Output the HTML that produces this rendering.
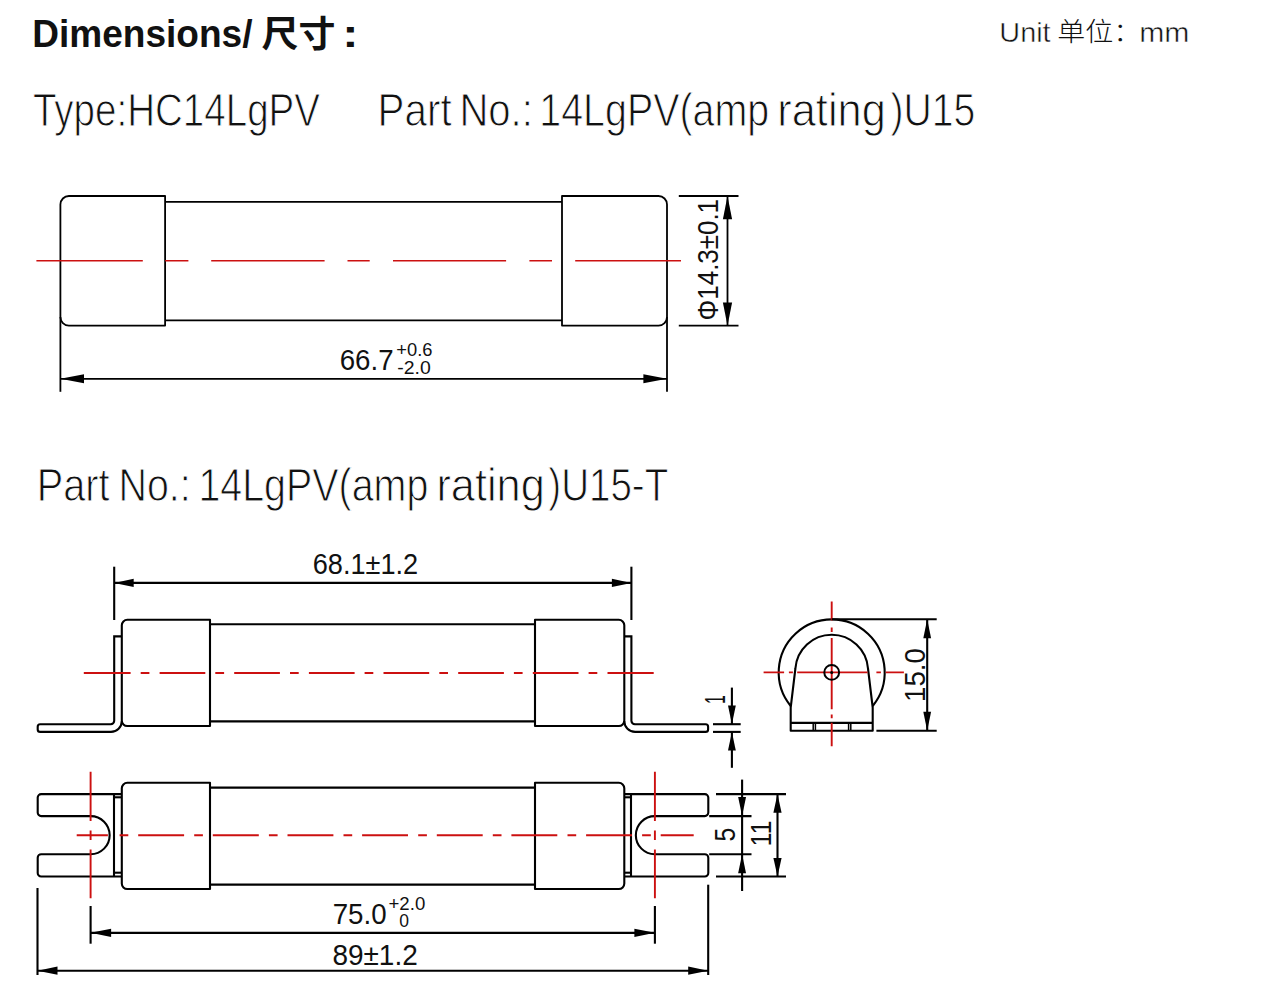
<!DOCTYPE html>
<html lang="zh"><head><meta charset="utf-8"><title>Dimensions</title>
<style>
html,body{margin:0;padding:0;background:#fff;}
body{width:1274px;height:1000px;overflow:hidden;font-family:'Liberation Sans', 'Noto Sans CJK SC', sans-serif;}
svg{display:block;font-family:'Liberation Sans', 'Noto Sans CJK SC', sans-serif;}
</style></head><body>
<svg width="1274" height="1000" viewBox="0 0 1274 1000">
<rect width="1274" height="1000" fill="#fff"/>
<path d="M165.1 196H68.9A8.5 8.5 0 0 0 60.4 204.5V317.1A8.5 8.5 0 0 0 68.9 325.6H165.1Z" fill="none" stroke="#000" stroke-width="1.8" stroke-linejoin="round"/>
<path d="M562 196H658.5A8.5 8.5 0 0 1 667.0 204.5V317.1A8.5 8.5 0 0 1 658.5 325.6H562Z" fill="none" stroke="#000" stroke-width="1.8" stroke-linejoin="round"/>
<line x1="165.2" y1="201.8" x2="562" y2="201.8" stroke="#000" stroke-width="1.8" />
<line x1="165.2" y1="320.3" x2="562" y2="320.3" stroke="#000" stroke-width="1.8" />
<path d="M36.4 260.8H142.8M165.2 260.8H188.4M211.2 260.8H324.6M347.5 260.8H369.7M393 260.8H506.1M529.4 260.8H552M575.2 260.8H681" stroke="#cc1010" stroke-width="1.6" fill="none"/>
<line x1="60.4" y1="317" x2="60.4" y2="391.8" stroke="#000" stroke-width="1.8" />
<line x1="667.0" y1="317" x2="667.0" y2="391.8" stroke="#000" stroke-width="1.8" />
<line x1="60.4" y1="378.85" x2="667.0" y2="378.85" stroke="#000" stroke-width="1.8" />
<polygon points="60.4,378.85 84.0,374.35 84.0,383.35" fill="#000"/>
<polygon points="667.0,378.85 643.4,374.35 643.4,383.35" fill="#000"/>
<line x1="678.8" y1="196" x2="738.5" y2="196" stroke="#000" stroke-width="1.8" />
<line x1="678.8" y1="325.7" x2="738.5" y2="325.7" stroke="#000" stroke-width="1.8" />
<line x1="727.5" y1="196" x2="727.5" y2="325.7" stroke="#000" stroke-width="1.8" />
<polygon points="727.5,196 722.9,219.3 732.1,219.3" fill="#000"/>
<polygon points="727.5,325.7 722.9,302.4 732.1,302.4" fill="#000"/>
<path d="M210 619.8H127.3A5.5 5.5 0 0 0 121.8 625.3V720.5A5.5 5.5 0 0 0 127.3 726H210Z" fill="none" stroke="#000" stroke-width="2.1" stroke-linejoin="round"/>
<path d="M535 619.8H618.8A5.5 5.5 0 0 1 624.3 625.3V720.5A5.5 5.5 0 0 1 618.8 726H535Z" fill="none" stroke="#000" stroke-width="2.1" stroke-linejoin="round"/>
<line x1="210" y1="624.3" x2="535" y2="624.3" stroke="#000" stroke-width="2.1" />
<line x1="210" y1="721.4" x2="535" y2="721.4" stroke="#000" stroke-width="2.1" />
<path d="M121.8 636.4H114.2V720.8A3.5 3.5 0 0 1 110.7 724.3H40.2A2.5 2.5 0 0 0 37.7 726.8V729.4A2.5 2.5 0 0 0 40.2 731.9H111A10.8 10.8 0 0 0 121.8 721.1" fill="none" stroke="#000" stroke-width="2.1"/>
<path d="M624.3 636.4H631.4V720.8A3.5 3.5 0 0 0 634.9 724.3H705.6A2.5 2.5 0 0 1 708.1 726.8V729.4A2.5 2.5 0 0 1 705.6 731.9H635.1A10.8 10.8 0 0 1 624.3 721.1" fill="none" stroke="#000" stroke-width="2.1"/>
<path d="M83.8 673H130.6M140.7 673H149.4M159.6 673H205.3M215.3 673H224.1M234.2 673H279.9M290.0 673H298.7M308.9 673H354.6M364.6 673H373.3M383.5 673H429.2M439.3 673H448.0M458.2 673H503.9M513.9 673H522.6M532.8 673H578.5M588.6 673H597.3M607.5 673H653.7" stroke="#cc1010" stroke-width="1.9" fill="none"/>
<line x1="114.2" y1="566.7" x2="114.2" y2="620" stroke="#000" stroke-width="2.1" />
<line x1="631.4" y1="566.7" x2="631.4" y2="620" stroke="#000" stroke-width="2.1" />
<line x1="114.2" y1="582.9" x2="631.4" y2="582.9" stroke="#000" stroke-width="2.1" />
<polygon points="114.2,582.9 133.7,578.6999999999999 133.7,587.1" fill="#000"/>
<polygon points="631.4,582.9 611.9,578.6999999999999 611.9,587.1" fill="#000"/>
<line x1="713" y1="724.2" x2="740.7" y2="724.2" stroke="#000" stroke-width="2.1" />
<line x1="713" y1="731.9" x2="740.7" y2="731.9" stroke="#000" stroke-width="2.1" />
<line x1="731.9" y1="687.6" x2="731.9" y2="724.2" stroke="#000" stroke-width="2.1" />
<line x1="731.9" y1="731.9" x2="731.9" y2="767.8" stroke="#000" stroke-width="2.1" />
<polygon points="731.9,724.2 728.0,705.5 735.8,705.5" fill="#000"/>
<polygon points="731.9,731.9 728.0,750.6 735.8,750.6" fill="#000"/>
<path d="M790.7 706.0A53 53 0 1 1 872.7 706.0" fill="none" stroke="#000" stroke-width="2.1"/>
<path d="M790.7 730.8V707.5L795.4000000000001 668.5A36.4 36.4 0 0 1 868.0 668.5L872.7 707.5V730.8Z" fill="none" stroke="#000" stroke-width="2.1" stroke-linejoin="round"/>
<line x1="790.7" y1="722.9" x2="872.7" y2="722.9" stroke="#000" stroke-width="2.1" />
<line x1="813.2" y1="722.9" x2="813.2" y2="730.8" stroke="#000" stroke-width="1.5" />
<line x1="815.4" y1="722.9" x2="815.4" y2="730.8" stroke="#000" stroke-width="1.5" />
<line x1="848.6" y1="722.9" x2="848.6" y2="730.8" stroke="#000" stroke-width="1.5" />
<line x1="850.8" y1="722.9" x2="850.8" y2="730.8" stroke="#000" stroke-width="1.5" />
<path d="M763.6 672.4H784.1M788.9 672.4H792.9M797.2 672.4H867.6M876.4 672.4H880.9M885.7 672.4H903.9" stroke="#cc1010" stroke-width="1.9" fill="none"/>
<path d="M831.7 601.5V620.4M831.7 627.6V631.9M831.7 638V709.2M831.7 714.5V718.3M831.7 722.8V746.2" stroke="#cc1010" stroke-width="1.9" fill="none"/>
<circle cx="831.7" cy="672.4" r="7.4" fill="none" stroke="#000" stroke-width="2.0"/>
<circle cx="831.7" cy="672.4" r="1.5" fill="#000"/>
<line x1="831.7" y1="619.3" x2="936.7" y2="619.3" stroke="#000" stroke-width="2.1" />
<line x1="876.4" y1="730.8" x2="936.7" y2="730.8" stroke="#000" stroke-width="2.1" />
<line x1="927.2" y1="619.3" x2="927.2" y2="730.8" stroke="#000" stroke-width="2.1" />
<polygon points="927.2,619.3 923.3000000000001,638.3 931.1,638.3" fill="#000"/>
<polygon points="927.2,730.8 923.3000000000001,711.8 931.1,711.8" fill="#000"/>
<path d="M210 782.8H127.3A5.5 5.5 0 0 0 121.8 788.3V883.5A5.5 5.5 0 0 0 127.3 889H210Z" fill="none" stroke="#000" stroke-width="2.1" stroke-linejoin="round"/>
<path d="M535 782.8H618.8A5.5 5.5 0 0 1 624.3 788.3V883.5A5.5 5.5 0 0 1 618.8 889H535Z" fill="none" stroke="#000" stroke-width="2.1" stroke-linejoin="round"/>
<line x1="210" y1="787.6" x2="535" y2="787.6" stroke="#000" stroke-width="2.1" />
<line x1="210" y1="884.6" x2="535" y2="884.6" stroke="#000" stroke-width="2.1" />
<path d="M121.8 794.1H41.2A3.5 3.5 0 0 0 37.7 797.6V812.6A3.5 3.5 0 0 0 41.2 816.1H90.6A19.05000000000001 19.05000000000001 0 0 1 90.6 854.2H41.2A3.5 3.5 0 0 0 37.7 857.7V873.0A3.5 3.5 0 0 0 41.2 876.5H121.8" fill="none" stroke="#000" stroke-width="2.1"/>
<line x1="114" y1="794.1" x2="114" y2="876.5" stroke="#000" stroke-width="2.1" />
<line x1="114" y1="797.3" x2="121.8" y2="797.3" stroke="#000" stroke-width="2.1" />
<line x1="114" y1="872.7" x2="121.8" y2="872.7" stroke="#000" stroke-width="2.1" />
<path d="M624.3 794.1H704.8A3.5 3.5 0 0 1 708.3 797.6V812.6A3.5 3.5 0 0 1 704.8 816.1H654.9A19.05000000000001 19.05000000000001 0 0 0 654.9 854.2H704.8A3.5 3.5 0 0 1 708.3 857.7V873.0A3.5 3.5 0 0 1 704.8 876.5H624.3" fill="none" stroke="#000" stroke-width="2.1"/>
<line x1="631" y1="794.1" x2="631" y2="876.5" stroke="#000" stroke-width="2.1" />
<line x1="624.3" y1="797.3" x2="631" y2="797.3" stroke="#000" stroke-width="2.1" />
<line x1="624.3" y1="872.7" x2="631" y2="872.7" stroke="#000" stroke-width="2.1" />
<path d="M76.7 835.3H107.9M119.6 835.3H128.3M138.2 835.3H184.1M194.2 835.3H202.9M212.8 835.3H258.8M268.9 835.3H277.6M287.5 835.3H333.4M343.5 835.3H352.2M362.1 835.3H408.0M418.2 835.3H426.9M436.8 835.3H482.7M492.8 835.3H501.5M511.4 835.3H557.3M567.5 835.3H576.2M586.1 835.3H632.0M642.1 835.3H650.8M660.7 835.3H693.7" stroke="#cc1010" stroke-width="1.9" fill="none"/>
<path d="M90.6 771.8V821M90.6 830.5V840M90.6 849.5V898.2" stroke="#cc1010" stroke-width="1.9" fill="none"/>
<path d="M654.9 771.8V821M654.9 830.5V840M654.9 849.5V898.2" stroke="#cc1010" stroke-width="1.9" fill="none"/>
<line x1="90.6" y1="906" x2="90.6" y2="943.7" stroke="#000" stroke-width="2.1" />
<line x1="654.9" y1="906" x2="654.9" y2="943.7" stroke="#000" stroke-width="2.1" />
<line x1="90.6" y1="932.85" x2="654.9" y2="932.85" stroke="#000" stroke-width="2.1" />
<polygon points="90.6,932.85 111.1,928.75 111.1,936.95" fill="#000"/>
<polygon points="654.9,932.85 634.4,928.75 634.4,936.95" fill="#000"/>
<line x1="37.5" y1="888" x2="37.5" y2="975" stroke="#000" stroke-width="2.1" />
<line x1="708.2" y1="884.7" x2="708.2" y2="975" stroke="#000" stroke-width="2.1" />
<line x1="37.5" y1="970.7" x2="708.2" y2="970.7" stroke="#000" stroke-width="2.1" />
<polygon points="37.5,970.7 57.5,966.6 57.5,974.8000000000001" fill="#000"/>
<polygon points="708.2,970.7 688.2,966.6 688.2,974.8000000000001" fill="#000"/>
<line x1="709.2" y1="816.1" x2="751.5" y2="816.1" stroke="#000" stroke-width="2.1" />
<line x1="709.2" y1="854.2" x2="751.5" y2="854.2" stroke="#000" stroke-width="2.1" />
<line x1="742.1" y1="779.6" x2="742.1" y2="891" stroke="#000" stroke-width="2.1" />
<polygon points="742.1,816.1 738.15,797.1 746.0500000000001,797.1" fill="#000"/>
<polygon points="742.1,854.2 738.15,873.2 746.0500000000001,873.2" fill="#000"/>
<line x1="716" y1="794.1" x2="786" y2="794.1" stroke="#000" stroke-width="2.1" />
<line x1="716" y1="876.5" x2="786" y2="876.5" stroke="#000" stroke-width="2.1" />
<line x1="777.5" y1="794.1" x2="777.5" y2="876.5" stroke="#000" stroke-width="2.1" />
<polygon points="777.5,794.1 773.4,812.7 781.6,812.7" fill="#000"/>
<polygon points="777.5,876.5 773.4,857.9 781.6,857.9" fill="#000"/>
<text fill="#111"><tspan x="32.20" y="47.00" font-size="39.4" font-weight="700" textLength="220.25" lengthAdjust="spacingAndGlyphs">Dimensions/</tspan> <tspan x="261.60" y="47.00" font-size="36" font-weight="700" textLength="73.91" lengthAdjust="spacingAndGlyphs">尺寸</tspan> <tspan x="342.30" y="47.00" font-size="39.4" font-weight="700" textLength="16.28" lengthAdjust="spacingAndGlyphs">:</tspan></text>
<text fill="#111"><tspan x="999.30" y="41.55" stroke="#fff" stroke-width="0.5" font-size="28.0" font-weight="400" textLength="51.34" lengthAdjust="spacingAndGlyphs">Unit</tspan> <tspan x="1057.30" y="41.30" font-size="26" font-weight="300" textLength="84.04" lengthAdjust="spacingAndGlyphs">单位：</tspan><tspan x="1139.20" y="41.55" stroke="#fff" stroke-width="0.5" font-size="28.0" font-weight="400" textLength="50.31" lengthAdjust="spacingAndGlyphs">mm</tspan></text>
<text fill="#111"><tspan x="32.90" y="126.30" stroke="#fff" stroke-width="1.0" font-size="45.9" font-weight="400" textLength="287.12" lengthAdjust="spacingAndGlyphs">Type:HC14LgPV</tspan></text>
<text fill="#111"><tspan x="377.60" y="126.30" stroke="#fff" stroke-width="1.0" font-size="45.9" font-weight="400" textLength="74.01" lengthAdjust="spacingAndGlyphs">Part</tspan> <tspan x="459.40" y="126.30" stroke="#fff" stroke-width="1.0" font-size="45.9" font-weight="400" textLength="73.42" lengthAdjust="spacingAndGlyphs">No.:</tspan> <tspan x="539.30" y="126.30" stroke="#fff" stroke-width="1.0" font-size="45.9" font-weight="400" textLength="229.96" lengthAdjust="spacingAndGlyphs">14LgPV(amp</tspan> <tspan x="777.30" y="126.30" stroke="#fff" stroke-width="1.0" font-size="45.9" font-weight="400" textLength="108.44" lengthAdjust="spacingAndGlyphs">rating</tspan> <tspan x="890.40" y="126.30" stroke="#fff" stroke-width="1.0" font-size="45.9" font-weight="400" textLength="84.80" lengthAdjust="spacingAndGlyphs">)U15</tspan></text>
<text fill="#111"><tspan x="36.70" y="501.35" stroke="#fff" stroke-width="1.0" font-size="45.9" font-weight="400" textLength="72.92" lengthAdjust="spacingAndGlyphs">Part</tspan> <tspan x="118.50" y="501.35" stroke="#fff" stroke-width="1.0" font-size="45.9" font-weight="400" textLength="72.19" lengthAdjust="spacingAndGlyphs">No.:</tspan> <tspan x="198.40" y="501.35" stroke="#fff" stroke-width="1.0" font-size="45.9" font-weight="400" textLength="229.95" lengthAdjust="spacingAndGlyphs">14LgPV(amp</tspan> <tspan x="436.40" y="501.35" stroke="#fff" stroke-width="1.0" font-size="45.9" font-weight="400" textLength="108.37" lengthAdjust="spacingAndGlyphs">rating</tspan> <tspan x="548.30" y="501.35" stroke="#fff" stroke-width="1.0" font-size="45.9" font-weight="400" textLength="119.93" lengthAdjust="spacingAndGlyphs">)U15-T</tspan></text>
<text x="339.70" y="369.70" fill="#111" font-size="28.8" font-weight="400" textLength="53.87" lengthAdjust="spacingAndGlyphs">66.7</text>
<text x="396.30" y="355.70" fill="#111" font-size="17.9" font-weight="400" textLength="36.16" lengthAdjust="spacingAndGlyphs">+0.6</text>
<text x="397.20" y="373.70" fill="#111" font-size="17.9" font-weight="400" textLength="33.53" lengthAdjust="spacingAndGlyphs">-2.0</text>
<text x="717.60" y="320.40" fill="#111" font-size="28.8" font-weight="400" textLength="121.45" lengthAdjust="spacingAndGlyphs" transform="rotate(-90 717.6 320.40)">Φ14.3±0.1</text>
<text x="312.70" y="573.90" fill="#111" font-size="28.8" font-weight="400" textLength="105.48" lengthAdjust="spacingAndGlyphs">68.1±1.2</text>
<text x="724.50" y="704.00" fill="#111" font-size="28.8" font-weight="400" textLength="8.83" lengthAdjust="spacingAndGlyphs" transform="rotate(-90 724.5 704.00)">1</text>
<text x="925.00" y="701.90" fill="#111" font-size="28.8" font-weight="400" textLength="53.70" lengthAdjust="spacingAndGlyphs" transform="rotate(-90 925.0 701.90)">15.0</text>
<text x="332.70" y="923.90" fill="#111" font-size="28.8" font-weight="400" textLength="53.95" lengthAdjust="spacingAndGlyphs">75.0</text>
<text x="388.50" y="909.90" fill="#111" font-size="17.9" font-weight="400" textLength="36.75" lengthAdjust="spacingAndGlyphs">+2.0</text>
<text x="399.30" y="927.20" fill="#111" font-size="17.9" font-weight="400" textLength="9.75" lengthAdjust="spacingAndGlyphs">0</text>
<text x="332.40" y="964.60" fill="#111" font-size="28.8" font-weight="400" textLength="85.37" lengthAdjust="spacingAndGlyphs">89±1.2</text>
<text x="735.30" y="841.60" fill="#111" font-size="28.8" font-weight="400" textLength="13.72" lengthAdjust="spacingAndGlyphs" transform="rotate(-90 735.3 841.60)">5</text>
<text x="771.10" y="846.60" fill="#111" font-size="28.8" font-weight="400" textLength="26.25" lengthAdjust="spacingAndGlyphs" transform="rotate(-90 771.1 846.60)">11</text>
</svg>
</body></html>
